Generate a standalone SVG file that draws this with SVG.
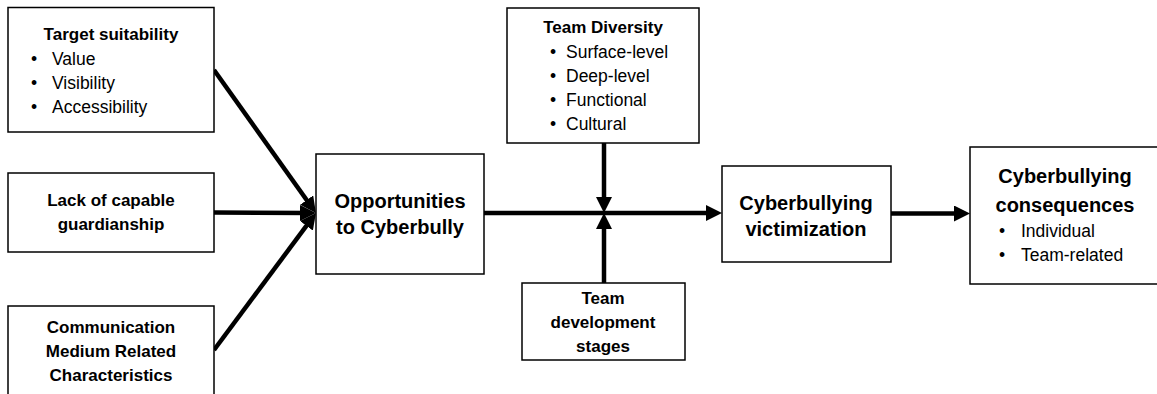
<svg xmlns="http://www.w3.org/2000/svg" width="1157" height="394" viewBox="0 0 1157 394">
  <style>
    .box { fill: #ffffff; stroke: #000000; stroke-width: 1.5; }
    .t { font-family: "Liberation Sans", Arial, sans-serif; fill: #000000; }
    .h { font-weight: bold; font-size: 17px; text-anchor: middle; }
    .hl { font-weight: bold; font-size: 20px; text-anchor: middle; }
    .b { font-size: 17.5px; }
    .conn { stroke: #000000; stroke-width: 4.5; fill: none; marker-end: url(#head); }
  </style>
  <defs>
    <marker id="head" markerUnits="userSpaceOnUse" markerWidth="17" markerHeight="16" refX="8" refY="8" orient="auto">
      <path d="M0,0 L16,8 L0,16 Z" fill="#000000"/>
    </marker>
  </defs>

  <rect width="1157" height="394" fill="#ffffff"/>

  <!-- connectors -->
  <g id="connectors">
    <line class="conn" x1="214" y1="70" x2="311.3" y2="206.5"/>
    <line class="conn" x1="214" y1="212.5" x2="308" y2="213"/>
    <line class="conn" x1="214" y1="350" x2="311.2" y2="219.4"/>
    <line class="conn" x1="484" y1="213" x2="714" y2="213"/>
    <line class="conn" x1="604" y1="143" x2="604" y2="205"/>
    <line class="conn" x1="604" y1="283" x2="604" y2="221"/>
    <line class="conn" x1="891" y1="213.5" x2="962" y2="213.5"/>
  </g>

  <!-- Target suitability -->
  <g id="target-suitability">
    <rect class="box" x="8" y="7.5" width="206" height="124.5"/>
    <text class="t h" x="111" y="40" font-size="17.5">Target suitability</text>
    <text class="t b" x="31" y="65">•</text>
    <text class="t b" x="52" y="65">Value</text>
    <text class="t b" x="31" y="89">•</text>
    <text class="t b" x="52" y="89">Visibility</text>
    <text class="t b" x="31" y="113">•</text>
    <text class="t b" x="52" y="113">Accessibility</text>
  </g>

  <!-- Lack of capable guardianship -->
  <g id="guardianship">
    <rect class="box" x="8" y="173" width="206" height="79"/>
    <text class="t h" x="111" y="206">Lack of capable</text>
    <text class="t h" x="111" y="230">guardianship</text>
  </g>

  <!-- Communication medium -->
  <g id="communication-medium">
    <rect class="box" x="8" y="306" width="206" height="100"/>
    <text class="t h" x="111" y="333" font-size="16.5">Communication</text>
    <text class="t h" x="111" y="357" font-size="16.5">Medium Related</text>
    <text class="t h" x="111" y="381" font-size="16.5">Characteristics</text>
  </g>

  <!-- Opportunities -->
  <g id="opportunities">
    <rect class="box" x="316" y="154" width="168" height="120"/>
    <text class="t hl" x="400" y="208" font-size="19.5">Opportunities</text>
    <text class="t hl" x="400" y="234" font-size="19.5">to Cyberbully</text>
  </g>

  <!-- Team diversity -->
  <g id="team-diversity">
    <rect class="box" x="507" y="8" width="192" height="135"/>
    <text class="t h" x="603" y="33" font-size="17.5">Team Diversity</text>
    <text class="t b" x="550" y="58">•</text>
    <text class="t b" x="566" y="58">Surface-level</text>
    <text class="t b" x="550" y="82">•</text>
    <text class="t b" x="566" y="82">Deep-level</text>
    <text class="t b" x="550" y="106">•</text>
    <text class="t b" x="566" y="106">Functional</text>
    <text class="t b" x="550" y="130">•</text>
    <text class="t b" x="566" y="130">Cultural</text>
  </g>

  <!-- Team development stages -->
  <g id="team-development">
    <rect class="box" x="522" y="283" width="163" height="77"/>
    <text class="t h" x="603" y="304">Team</text>
    <text class="t h" x="603" y="328">development</text>
    <text class="t h" x="603" y="352">stages</text>
  </g>

  <!-- Victimization -->
  <g id="victimization">
    <rect class="box" x="722" y="166" width="169" height="96"/>
    <text class="t hl" x="806" y="210">Cyberbullying</text>
    <text class="t hl" x="806" y="236">victimization</text>
  </g>

  <!-- Consequences -->
  <g id="consequences">
    <rect class="box" x="970" y="147" width="200" height="137"/>
    <text class="t hl" x="1065" y="183">Cyberbullying</text>
    <text class="t hl" x="1065" y="212">consequences</text>
    <text class="t b" x="999" y="237">•</text>
    <text class="t b" x="1021" y="237">Individual</text>
    <text class="t b" x="999" y="261">•</text>
    <text class="t b" x="1021" y="261">Team-related</text>
  </g>
</svg>
